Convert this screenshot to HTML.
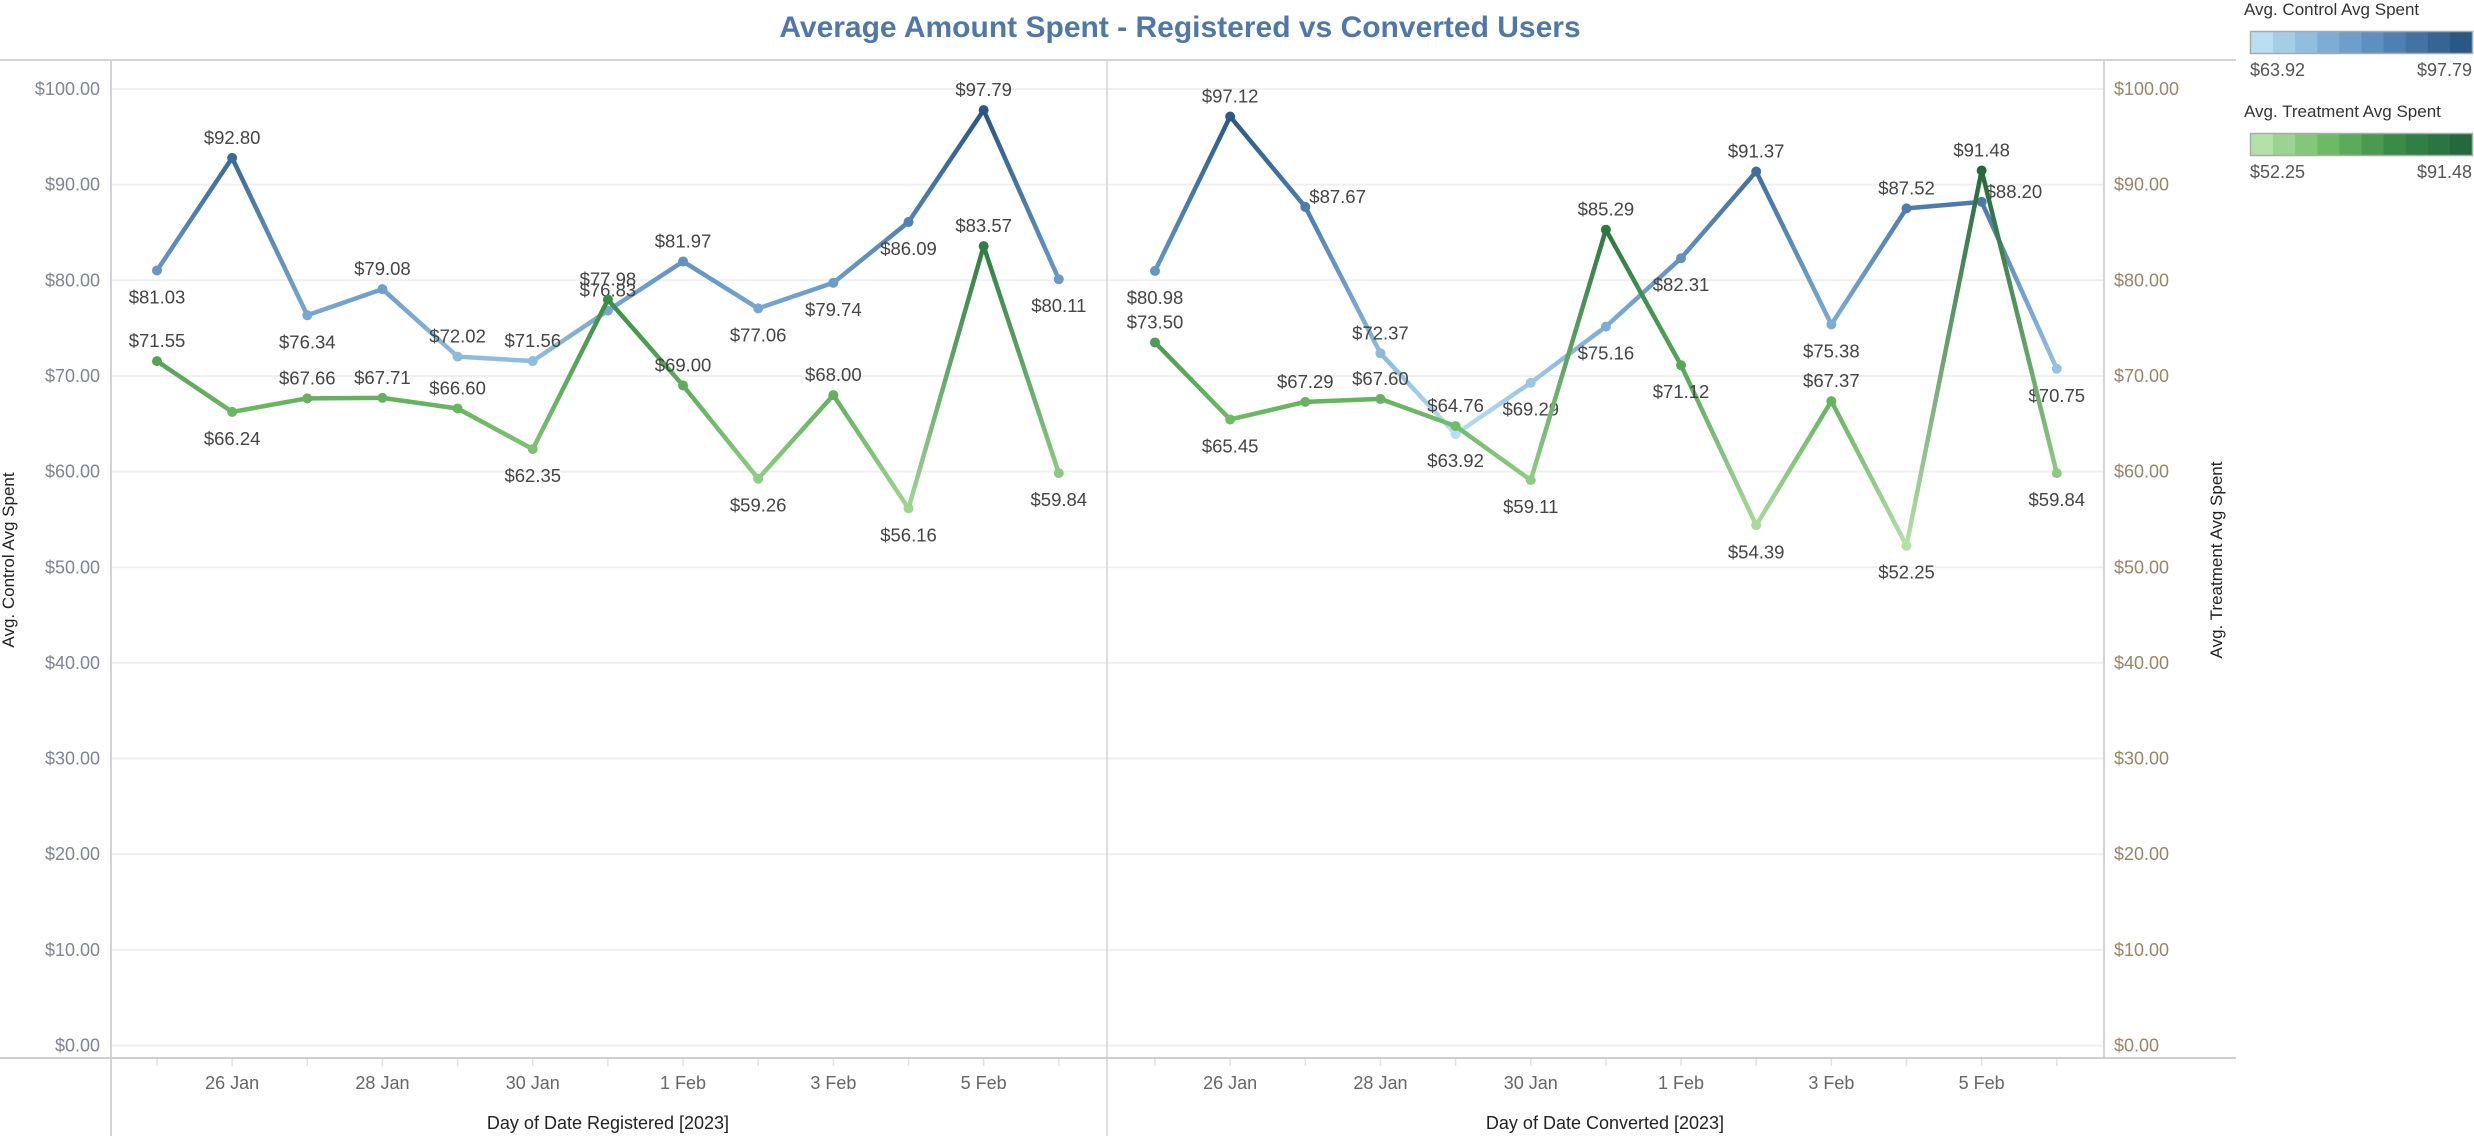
<!DOCTYPE html>
<html><head><meta charset="utf-8">
<style>
html,body{margin:0;padding:0;background:#fff;}
svg{display:block;font-family:"Liberation Sans Narrow","Liberation Sans",sans-serif;}
</style></head>
<body>
<svg id="chart" width="2474" height="1136" viewBox="0 0 2474 1136" xmlns="http://www.w3.org/2000/svg">
<text x="1180" y="37" text-anchor="middle" font-size="30" font-weight="bold" fill="#4f77a8">Average Amount Spent - Registered vs Converted Users</text>
<g id="grid"></g>
<g id="frame">
<line x1="0" y1="60" x2="2236" y2="60" stroke="#d4d4d4" stroke-width="2"/>
<line x1="111" y1="60" x2="111" y2="1136" stroke="#d4d4d4" stroke-width="2"/>
<line x1="1107" y1="60" x2="1107" y2="1136" stroke="#d4d4d4" stroke-width="1.5"/>
<line x1="2104" y1="60" x2="2104" y2="1058" stroke="#d4d4d4" stroke-width="2"/>
<line x1="0" y1="1058" x2="2236" y2="1058" stroke="#cfcfcf" stroke-width="2"/>
</g>
<g id="yaxes"></g>
<g id="xaxes"></g>
<text transform="translate(14,560) rotate(-90)" text-anchor="middle" font-size="17" fill="#222" font-family="Liberation Sans, sans-serif">Avg. Control Avg Spent</text>
<text transform="translate(2222,560) rotate(-90)" text-anchor="middle" font-size="17" fill="#222" font-family="Liberation Sans, sans-serif">Avg. Treatment Avg Spent</text>
<text x="608" y="1129" text-anchor="middle" font-size="18" fill="#222">Day of Date Registered [2023]</text>
<text x="1605" y="1129" text-anchor="middle" font-size="18" fill="#222">Day of Date Converted [2023]</text>
<g id="series"></g>
<g id="legend">
<text x="2244" y="15" font-size="17" fill="#333" font-family="Liberation Sans, sans-serif">Avg. Control Avg Spent</text>
<g id="lgc"></g>
<text x="2250" y="76" font-size="18" fill="#555" font-family="Liberation Sans, sans-serif">$63.92</text>
<text x="2472" y="76" text-anchor="end" font-size="18" fill="#555" font-family="Liberation Sans, sans-serif">$97.79</text>
<text x="2244" y="117" font-size="17" fill="#333" font-family="Liberation Sans, sans-serif">Avg. Treatment Avg Spent</text>
<g id="lgt"></g>
<text x="2250" y="178" font-size="18" fill="#555" font-family="Liberation Sans, sans-serif">$52.25</text>
<text x="2472" y="178" text-anchor="end" font-size="18" fill="#555" font-family="Liberation Sans, sans-serif">$91.48</text>
</g>
</svg>
<script>
const days = ["25 Jan","26 Jan","27 Jan","28 Jan","29 Jan","30 Jan","31 Jan","1 Feb","2 Feb","3 Feb","4 Feb","5 Feb","6 Feb"];
const tickLabels = ["26 Jan","28 Jan","30 Jan","1 Feb","3 Feb","5 Feb"];
const yTicks = [0,10,20,30,40,50,60,70,80,90,100];
const regControl = [81.03,92.80,76.34,79.08,72.02,71.56,76.83,81.97,77.06,79.74,86.09,97.79,80.11];
const regTreatment = [71.55,66.24,67.66,67.71,66.60,62.35,77.98,69.00,59.26,68.00,56.16,83.57,59.84];
const convControl = [80.98,97.12,87.67,72.37,63.92,69.29,75.16,82.31,91.37,75.38,87.52,88.20,70.75];
const convTreatment = [73.50,65.45,67.29,67.60,64.76,59.11,85.29,71.12,54.39,67.37,52.25,91.48,59.84];
const regControlLabelSide = ["B","A","B","A","A","A","A","A","B","B","B","A","B"];
const regTreatmentLabelSide = ["A","B","A","A","A","B","A","A","B","A","B","A","B"];
const convControlLabelSide = ["B","A","R","A","B","B","B","B","A","B","A","R","B"];
const convTreatmentLabelSide = ["A","B","A","A","A","B","A","B","B","A","B","A","B"];
const controlRange = [63.92,97.79];
const treatmentRange = [52.25,91.48];

const NS="http://www.w3.org/2000/svg";
function mk(tag,attrs,parent,txt){const e=document.createElementNS(NS,tag);for(const k in attrs)e.setAttribute(k,attrs[k]);if(txt!==undefined)e.textContent=txt;parent.appendChild(e);return e;}
const panelBase=[157,1155], step=75.15;
function xPos(panel,i){return panelBase[panel]+i*step;}
function yPos(v){return 1045.5-v*9.565;}
function lerp(a,b,t){return a+(b-a)*t;}
function ramp(stops,t){t=Math.max(0,Math.min(1,t));const n=stops.length-1;const k=Math.min(n-1,Math.floor(t*n));const f=t*n-k;const a=stops[k],b=stops[k+1];return "rgb("+[0,1,2].map(j=>Math.round(lerp(a[j],b[j],f))).join(",")+")";}
const blueStops=[[185,221,241],[125,173,212],[80,128,179],[42,87,131]];
const greenStops=[[179,224,166],[110,186,100],[56,140,70],[36,105,61]];
function cControl(v){return ramp(blueStops,(v-controlRange[0])/(controlRange[1]-controlRange[0]));}
function cTreat(v){return ramp(greenStops,(v-treatmentRange[0])/(treatmentRange[1]-treatmentRange[0]));}

const grid=document.getElementById('grid'), ya=document.getElementById('yaxes'), xa=document.getElementById('xaxes');
yTicks.forEach(t=>{
  const y=yPos(t);
  const g=mk('line',{x1:111,y1:y,x2:2104,y2:y,stroke:'#efefef','stroke-width':2},grid);
  
  
  const l=mk('text',{x:100,y:y+6,'text-anchor':'end','font-size':18,fill:'#7d8496','font-family':'Liberation Sans, sans-serif'},ya,'$'+t.toFixed(2));
  
  
  const r=mk('text',{x:2114,y:y+6,'font-size':18,fill:'#9a8466','font-family':'Liberation Sans, sans-serif'},ya,'$'+t.toFixed(2));
  
  
});
[0,1].forEach(p=>{
  days.forEach((d,i)=>{
    const x=xPos(p,i);
    const tk=mk('line',{x1:x,y1:1059,x2:x,y2:1066,stroke:'#e2e2e2','stroke-width':1.5},xa);
    
    
    if(tickLabels.indexOf(d)>=0){
      const t=mk('text',{x:x,y:1089,'text-anchor':'middle','font-size':18,fill:'#666'},xa,d);
      
      
    }
  });
});

const ser=document.getElementById('series');
let gid=0;
function drawSeries(panel,vals,sides,colorFn,name){
  const g=mk('g',{},ser);
  
  
  for(let i=0;i<vals.length-1;i++){
    const x1=xPos(panel,i),y1=yPos(vals[i]),x2=xPos(panel,i+1),y2=yPos(vals[i+1]);
    const id='gr'+(gid++);
    const lg=mk('linearGradient',{id:id,gradientUnits:'userSpaceOnUse',x1:x1,y1:y1,x2:x2,y2:y2},g);
    mk('stop',{offset:'0','stop-color':colorFn(vals[i])},lg);
    mk('stop',{offset:'1','stop-color':colorFn(vals[i+1])},lg);
    const ln=mk('line',{x1:x1,y1:y1,x2:x2,y2:y2,stroke:'url(#'+id+')','stroke-width':4.5,'stroke-linecap':'round'},g);
    
    
  }
  vals.forEach((v,i)=>{
    const x=xPos(panel,i),y=yPos(v);
    const c=mk('circle',{cx:x,cy:y,r:5,fill:colorFn(v)},g);
    
    
    const s=sides[i];
    let tx=x,ty=y+33,anchor='middle';
    if(s==='A'){ty=y-14;}
    else if(s==='R'){tx=x+4;ty=y+-4;anchor='start';}
    const t=mk('text',{x:tx,y:ty,'text-anchor':anchor,'font-size':18.5,fill:'#444','font-family':'Liberation Sans, sans-serif'},g,'$'+v.toFixed(2));
    
    
  });
}
drawSeries(0,regControl,regControlLabelSide,cControl,'registered-control-line');
drawSeries(0,regTreatment,regTreatmentLabelSide,cTreat,'registered-treatment-line');
drawSeries(1,convControl,convControlLabelSide,cControl,'converted-control-line');
drawSeries(1,convTreatment,convTreatmentLabelSide,cTreat,'converted-treatment-line');

function legendRamp(gEl,y,fn,range){
  for(let k=0;k<10;k++){
    const v=range[0]+(range[1]-range[0])*(k/9);
    const r=mk('rect',{x:2251+k*22.1,y:y,width:22.6,height:21,fill:fn(v)},gEl);
    
    
  }
  mk('rect',{x:2250.5,y:y-0.5,width:222,height:22,fill:'none',stroke:'#aaa','stroke-width':1.5},gEl);
}
legendRamp(document.getElementById('lgc'),32,cControl,controlRange);
legendRamp(document.getElementById('lgt'),134,cTreat,treatmentRange);
</script>
</body></html>
